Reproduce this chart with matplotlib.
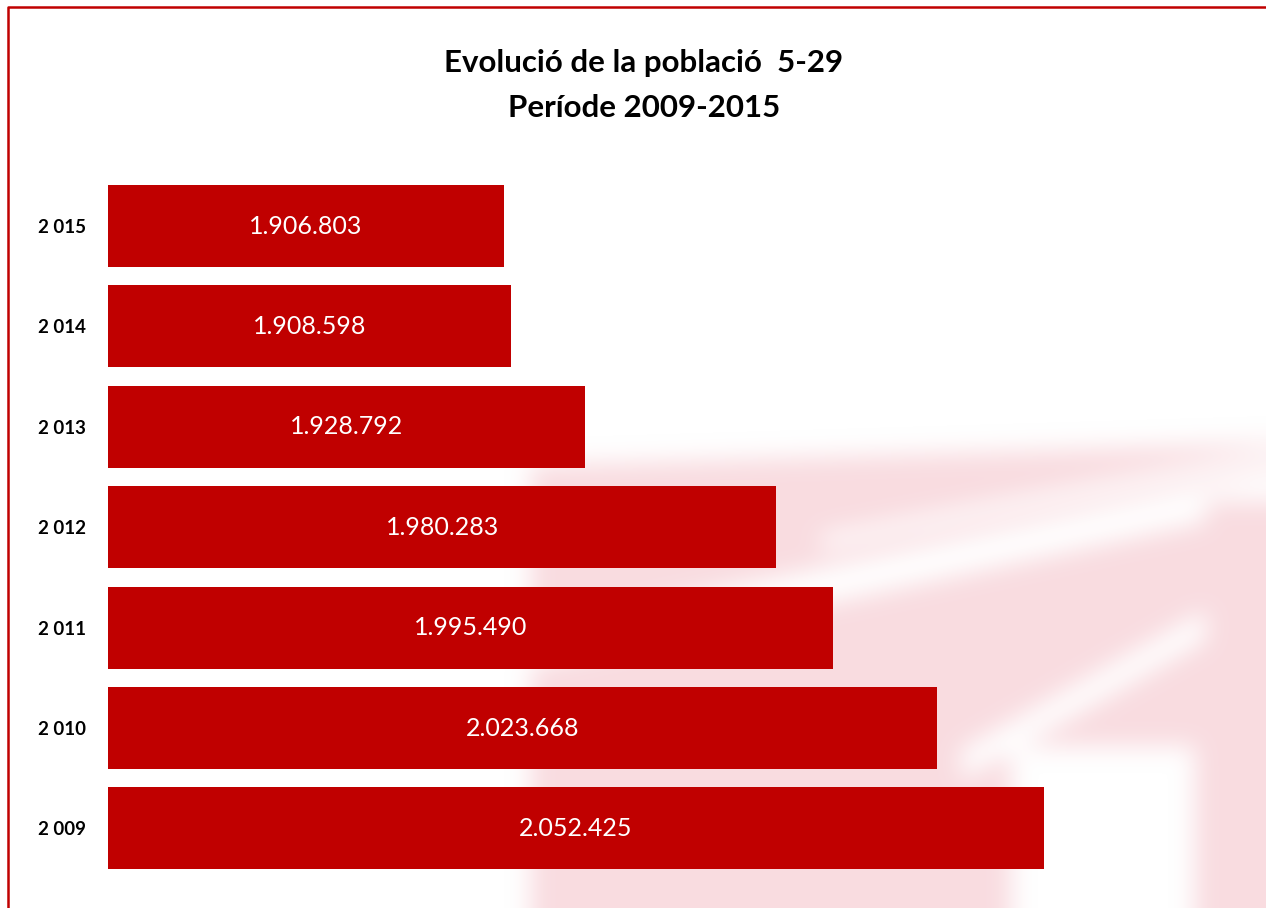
import numpy as np
import matplotlib
matplotlib.use('Agg')
import matplotlib.pyplot as plt
from matplotlib.lines import Line2D

# data
years = ['2 009', '2 010', '2 011', '2 012', '2 013', '2 014', '2 015']
poblacio = [2052425, 2023668, 1995490, 1980283, 1928792, 1908598, 1906803]
titol_1 = 'Evolució de la població  5-29'
titol_2 = 'Període 2009-2015'

vermell = '#C00000'
xmin, xmax = 1800000, 2100000

plt.rcParams['font.family'] = ['Lato', 'DejaVu Sans']

W, H = 1266, 908
fig = plt.figure(figsize=(W / 100, H / 100), dpi=100)
fig.patch.set_facecolor('white')

#---------------- faint watermark in the background (blurred pink shapes) -------------
yy, xx = np.mgrid[0:H, 0:W].astype(float)

def dist_line(x0, y0, x1, y1):
    dx, dy = x1 - x0, y1 - y0
    return np.abs(dy * (xx - x0) - dx * (yy - y0)) / np.hypot(dx, dy)

mask = ((xx > 530) & (yy > 465 - 0.03 * (xx - 530))).astype(float)
mask[dist_line(800, 590, 1266, 490) < 18] = 0
mask[(dist_line(830, 540, 1200, 470) < 7) & (xx > 820)] = 0
mask[(dist_line(1000, 742, 1210, 622) < 13) & (xx > 960)] = 0
mask[(xx > 1010) & (xx < 1195) & (yy > 745)] = 0
mask[(xx > 1205) & (yy > 500)] = 1

def box_blur(a, r):
    a = np.pad(a, r + 1, mode='edge')
    for axis in (0, 1):
        c = np.cumsum(a, axis=axis)
        c = np.insert(c, 0, 0, axis=axis)
        if axis == 0:
            a = (c[2 * r + 1:, :] - c[:-2 * r - 1, :]) / (2 * r + 1)
        else:
            a = (c[:, 2 * r + 1:] - c[:, :-2 * r - 1]) / (2 * r + 1)
    # back to original size (centre crop)
    n0 = (a.shape[0] - H) // 2
    n1 = (a.shape[1] - W) // 2
    return a[n0:n0 + H, n1:n1 + W]

for _ in range(3):
    mask = box_blur(mask, 11)

img = np.ones((H, W, 4))
img[..., 0] = 248 / 255
img[..., 1] = 214 / 255
img[..., 2] = 219 / 255
img[..., 3] = np.clip(mask, 0, 1) * 0.85
fig.figimage(img, xo=0, yo=0, origin='upper', zorder=0)

#---------------- bars ---------------------------------------------------------------
ax = fig.add_axes([108 / W, 0.0323, 1112 / W, 0.774])
ax.set_zorder(2)
ax.set_facecolor('none')
ypos = np.arange(len(years))
bars = ax.barh(ypos, [v - xmin for v in poblacio], left=xmin, height=0.817,
               color=vermell, zorder=2)

for b, v in zip(bars, poblacio):
    lbl = f'{v:,}'.replace(',', '.')
    ax.text(b.get_x() + b.get_width() / 2, b.get_y() + b.get_height() / 2, lbl,
            ha='center', va='center', color='white', fontsize=18, zorder=3)

ax.set_xlim(xmin, xmax)
ax.set_ylim(-0.5, len(years) - 0.5)
ax.set_yticks(ypos)
ax.set_yticklabels(years, fontsize=13.5, fontweight='bold')
ax.tick_params(axis='y', length=0, pad=16)
ax.set_xticks([])
for s in ax.spines.values():
    s.set_visible(False)

# title
fig.text(644 / W, 1 - 63 / H, titol_1, ha='center', va='center',
         fontsize=22.5, fontweight='bold')
fig.text(644 / W, 1 - 108 / H, titol_2, ha='center', va='center',
         fontsize=22.5, fontweight='bold')

# red frame (only top and left visible)
fig.add_artist(Line2D([8 / W, 8 / W, 1], [0, 1 - 7 / H, 1 - 7 / H],
                      transform=fig.transFigure, color=vermell, lw=1.8))

plt.savefig('out.png', dpi=100)
